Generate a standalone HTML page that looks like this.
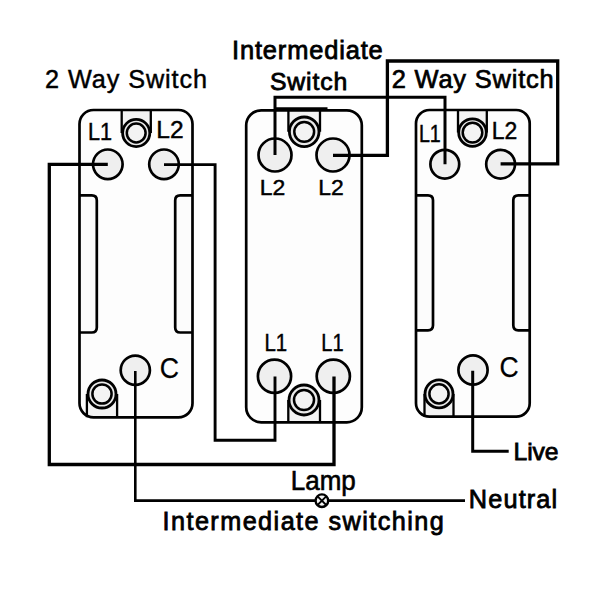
<!DOCTYPE html>
<html><head><meta charset="utf-8"><style>
html,body{margin:0;padding:0;background:#fff;}
svg{display:block;}
text{font-family:"Liberation Sans",sans-serif;fill:#000;}
</style></head><body>
<svg width="600" height="600" viewBox="0 0 600 600">
<rect width="600" height="600" fill="#fff"/>
<path d="M93.5 110 H178.5 A14 14 0 0 1 192.5 124 V403.3 A14 14 0 0 1 178.5 417.3 H93.5 A14 14 0 0 1 79.5 403.3 V124 A14 14 0 0 1 93.5 110 Z" fill="#fdfdfd"/>
<rect x="121.7" y="110" width="29.10000000000001" height="23" fill="#f3f3f3"/>
<rect x="86.9" y="394" width="30.19999999999999" height="23.30000000000001" fill="#f3f3f3"/>
<path d="M79.5 195.4 H91.8 Q96.8 195.4 96.8 200.4 V327.5 Q96.8 332.5 91.8 332.5 H79.5" fill="#fcfcfc" stroke="#000" stroke-width="2.7"/>
<path d="M192.5 195.4 H180.2 Q175.2 195.4 175.2 200.4 V327.5 Q175.2 332.5 180.2 332.5 H192.5" fill="#fcfcfc" stroke="#000" stroke-width="2.7"/>
<path d="M93.5 110 H178.5 A14 14 0 0 1 192.5 124 V403.3 A14 14 0 0 1 178.5 417.3 H93.5 A14 14 0 0 1 79.5 403.3 V124 A14 14 0 0 1 93.5 110 Z" fill="none" stroke="#000" stroke-width="2.7"/>
<path d="M121.7 110 V133 M150.8 110 V133" stroke="#000" stroke-width="2.3" fill="none"/>
<circle cx="136.2" cy="133" r="13.6" fill="#e9e9e9" stroke="#000" stroke-width="2.8"/>
<circle cx="136.2" cy="133" r="9.4" fill="#f3f3f3" stroke="#000" stroke-width="2.5"/>
<path d="M86.9 417.3 V394 M117.1 417.3 V394" stroke="#000" stroke-width="2.3" fill="none"/>
<circle cx="102" cy="394" r="14.0" fill="#e9e9e9" stroke="#000" stroke-width="2.8"/>
<circle cx="102" cy="394" r="9.6" fill="#f3f3f3" stroke="#000" stroke-width="2.5"/>
<circle cx="107.8" cy="164.3" r="14.8" fill="#efefef" stroke="#000" stroke-width="2.7"/>
<circle cx="164" cy="164.3" r="14.8" fill="#efefef" stroke="#000" stroke-width="2.7"/>
<circle cx="135.3" cy="370.2" r="14.6" fill="#efefef" stroke="#000" stroke-width="2.7"/>
<path d="M261.2 110.3 H346.8 A15 15 0 0 1 361.8 125.3 V407.3 A15 15 0 0 1 346.8 422.3 H261.2 A15 15 0 0 1 246.2 407.3 V125.3 A15 15 0 0 1 261.2 110.3 Z" fill="#fdfdfd"/>
<rect x="288.4" y="110.3" width="31.600000000000023" height="21.500000000000014" fill="#f3f3f3"/>
<rect x="288.3" y="400" width="31.69999999999999" height="22.30000000000001" fill="#f3f3f3"/>
<path d="M261.2 110.3 H346.8 A15 15 0 0 1 361.8 125.3 V407.3 A15 15 0 0 1 346.8 422.3 H261.2 A15 15 0 0 1 246.2 407.3 V125.3 A15 15 0 0 1 261.2 110.3 Z" fill="none" stroke="#000" stroke-width="2.7"/>
<path d="M288.4 110.3 V131.8 M320 110.3 V131.8" stroke="#000" stroke-width="2.3" fill="none"/>
<circle cx="304.2" cy="131.8" r="14.8" fill="#e9e9e9" stroke="#000" stroke-width="2.8"/>
<circle cx="304.2" cy="131.8" r="9.9" fill="#f3f3f3" stroke="#000" stroke-width="2.5"/>
<path d="M288.3 422.3 V400 M320 422.3 V400" stroke="#000" stroke-width="2.3" fill="none"/>
<circle cx="304" cy="400" r="15.0" fill="#e9e9e9" stroke="#000" stroke-width="2.8"/>
<circle cx="304" cy="400" r="10.0" fill="#f3f3f3" stroke="#000" stroke-width="2.5"/>
<circle cx="275" cy="155" r="16.5" fill="#efefef" stroke="#000" stroke-width="2.7"/>
<circle cx="333" cy="155" r="16.5" fill="#efefef" stroke="#000" stroke-width="2.7"/>
<circle cx="274.5" cy="376.3" r="16.6" fill="#efefef" stroke="#000" stroke-width="2.7"/>
<circle cx="333.3" cy="376.3" r="16.6" fill="#efefef" stroke="#000" stroke-width="2.7"/>
<path d="M429.5 110 H516.2 A13.5 13.5 0 0 1 529.7 123.5 V403.2 A13.5 13.5 0 0 1 516.2 416.7 H429.5 A13.5 13.5 0 0 1 416 403.2 V123.5 A13.5 13.5 0 0 1 429.5 110 Z" fill="#fdfdfd"/>
<rect x="458" y="110" width="28.80000000000001" height="22.599999999999994" fill="#f3f3f3"/>
<rect x="424.5" y="393.9" width="29.0" height="22.80000000000001" fill="#f3f3f3"/>
<path d="M416 195.3 H428 Q433 195.3 433 200.3 V325.3 Q433 330.3 428 330.3 H416" fill="#fcfcfc" stroke="#000" stroke-width="2.7"/>
<path d="M529.7 195.3 H518.3 Q513.3 195.3 513.3 200.3 V325.3 Q513.3 330.3 518.3 330.3 H529.7" fill="#fcfcfc" stroke="#000" stroke-width="2.7"/>
<path d="M429.5 110 H516.2 A13.5 13.5 0 0 1 529.7 123.5 V403.2 A13.5 13.5 0 0 1 516.2 416.7 H429.5 A13.5 13.5 0 0 1 416 403.2 V123.5 A13.5 13.5 0 0 1 429.5 110 Z" fill="none" stroke="#000" stroke-width="2.7"/>
<path d="M458 110 V132.6 M486.8 110 V132.6" stroke="#000" stroke-width="2.3" fill="none"/>
<circle cx="472.5" cy="132.6" r="13.8" fill="#e9e9e9" stroke="#000" stroke-width="2.8"/>
<circle cx="472.5" cy="132.6" r="9.8" fill="#f3f3f3" stroke="#000" stroke-width="2.5"/>
<path d="M424.5 416.7 V393.9 M453.5 416.7 V393.9" stroke="#000" stroke-width="2.3" fill="none"/>
<circle cx="439" cy="393.9" r="14.0" fill="#e9e9e9" stroke="#000" stroke-width="2.8"/>
<circle cx="439" cy="393.9" r="9.6" fill="#f3f3f3" stroke="#000" stroke-width="2.5"/>
<circle cx="444.8" cy="164.2" r="14.4" fill="#efefef" stroke="#000" stroke-width="2.7"/>
<circle cx="500.6" cy="164.2" r="14.4" fill="#efefef" stroke="#000" stroke-width="2.7"/>
<circle cx="473" cy="370" r="14.6" fill="#efefef" stroke="#000" stroke-width="2.7"/>
<path d="M276 108.7 H327.5" stroke="#000" stroke-width="3"/>
<path d="M107.8 164.4 L49.3 164.4 L49.3 464.5 L334 464.5 L334 376.5" fill="none" stroke="#000" stroke-width="3.3" stroke-linejoin="miter" stroke-linecap="butt"/>
<path d="M164 164.6 L215.1 164.6 L215.1 440.2 L275 440.2 L275 376.5" fill="none" stroke="#000" stroke-width="2.9" stroke-linejoin="miter" stroke-linecap="butt"/>
<path d="M135.3 371 L135.3 500.6 L465 500.6" fill="none" stroke="#000" stroke-width="2.6" stroke-linejoin="miter" stroke-linecap="butt"/>
<path d="M275 155 L275 97.3 L445 97.3 L445 164.2" fill="none" stroke="#000" stroke-width="3.0" stroke-linejoin="miter" stroke-linecap="butt"/>
<path d="M333 155.3 L387.4 155.3 L387.4 61 L557.7 61 L557.7 163.9 L500.6 163.9" fill="none" stroke="#000" stroke-width="3.3" stroke-linejoin="miter" stroke-linecap="butt"/>
<path d="M472.7 370.7 L472.7 451.3 L508.7 451.3" fill="none" stroke="#000" stroke-width="3.0" stroke-linejoin="miter" stroke-linecap="butt"/>
<circle cx="321.9" cy="500.7" r="6.3" fill="#f4f4f4" stroke="#000" stroke-width="2.4"/>
<path d="M317.6 496.4 L326.2 505 M326.2 496.4 L317.6 505" stroke="#000" stroke-width="1.8"/>
<text x="45.00" y="88.10" font-size="25.22" textLength="162.10" lengthAdjust="spacing" stroke="#000" stroke-width="0.45">2 Way Switch</text>
<text x="232.00" y="58.95" font-size="25.45" textLength="150.75" lengthAdjust="spacing" stroke="#000" stroke-width="0.8">Intermediate</text>
<text x="269.90" y="90.00" font-size="24.80" textLength="77.40" lengthAdjust="spacing" stroke="#000" stroke-width="0.8">Switch</text>
<text x="391.70" y="88.30" font-size="25.43" textLength="162.00" lengthAdjust="spacing" stroke="#000" stroke-width="0.7">2 Way Switch</text>
<text x="513.55" y="459.60" font-size="24.68" textLength="45.05" lengthAdjust="spacing" stroke="#000" stroke-width="0.8">Live</text>
<text x="290.80" y="489.60" font-size="26.78" textLength="64.95" lengthAdjust="spacingAndGlyphs" stroke="#000" stroke-width="0.6">Lamp</text>
<text x="468.85" y="507.90" font-size="25.33" textLength="88.30" lengthAdjust="spacing" stroke="#000" stroke-width="0.8">Neutral</text>
<text x="162.50" y="530.15" font-size="25.23" textLength="281.25" lengthAdjust="spacing" stroke="#000" stroke-width="0.8">Intermediate switching</text>
<text x="88.10" y="139.75" font-size="24.06" textLength="24.05" lengthAdjust="spacingAndGlyphs" stroke="#000" stroke-width="0.45">L1</text>
<text x="156.25" y="138.35" font-size="24.38" textLength="27.35" lengthAdjust="spacingAndGlyphs" stroke="#000" stroke-width="0.45">L2</text>
<text x="159.75" y="378.10" font-size="28.86" textLength="19.25" lengthAdjust="spacingAndGlyphs" stroke="#000" stroke-width="0.25">C</text>
<text x="259.65" y="194.75" font-size="22.76" textLength="25.50" lengthAdjust="spacingAndGlyphs" stroke="#000" stroke-width="0.45">L2</text>
<text x="318.20" y="194.75" font-size="22.76" textLength="25.45" lengthAdjust="spacingAndGlyphs" stroke="#000" stroke-width="0.45">L2</text>
<text x="264.40" y="351.30" font-size="23.82" textLength="22.75" lengthAdjust="spacingAndGlyphs" stroke="#000" stroke-width="0.45">L1</text>
<text x="321.35" y="351.30" font-size="23.82" textLength="22.30" lengthAdjust="spacingAndGlyphs" stroke="#000" stroke-width="0.45">L1</text>
<text x="418.90" y="142.35" font-size="23.56" textLength="21.90" lengthAdjust="spacingAndGlyphs" stroke="#000" stroke-width="0.45">L1</text>
<text x="491.70" y="139.30" font-size="23.24" textLength="25.55" lengthAdjust="spacingAndGlyphs" stroke="#000" stroke-width="0.45">L2</text>
<text x="499.45" y="376.90" font-size="29.10" textLength="19.15" lengthAdjust="spacingAndGlyphs" stroke="#000" stroke-width="0.25">C</text>
</svg>
</body></html>
